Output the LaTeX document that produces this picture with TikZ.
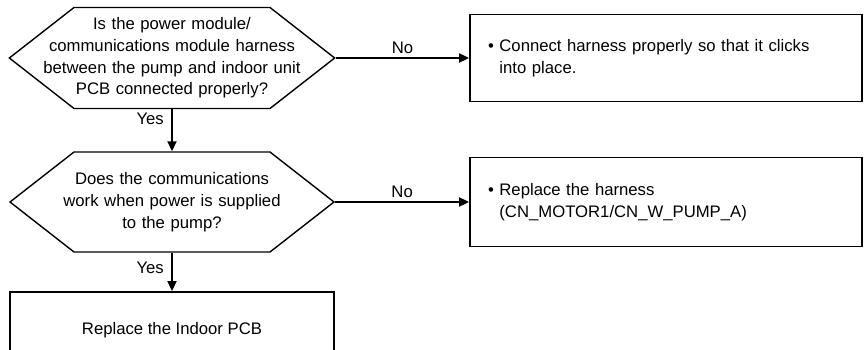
\documentclass[tikz,border=0pt]{standalone}
\usepackage{fontspec}
\setmainfont{Liberation Sans}
\usetikzlibrary{arrows.meta,shapes.symbols}

\begin{document}
\begin{tikzpicture}[x=1pt,y=-1pt,>={Triangle[length=10pt,width=9pt]},
  font=\fontsize{16.7}{21.7}\selectfont,
  check/.style={shape=signal,signal to=west and east,signal pointer angle=76,draw,line width=1.4pt,text width=280pt,inner xsep=-42pt,inner ysep=0pt,align=center},
  fixbox/.style={draw,line width=1.8pt,inner sep=0pt},
  link/.style={->,line width=1.8pt}]
\clip (0,0) rectangle (866,350);
\node[check,minimum height=101pt] (q1) at (172,58) {Is the power module/\\communications module harness\\between the pump and indoor unit\\PCB connected properly?};
\node[check,minimum height=100pt] (q2) at (172,202) {Does the communications\\work when power is supplied\\to the pump?};
\node[fixbox,minimum width=392pt,minimum height=87pt,text width=356pt,align=left] (fix1) at (666,58) {•\ Connect harness properly so that it clicks\\\phantom{•\ }into place.};
\node[fixbox,minimum width=392pt,minimum height=89pt,text width=356pt,align=left] (fix2) at (666,202) {•\ Replace the harness\\\phantom{•\ }(CN\_MOTOR1/CN\_W\_PUMP\_A)};
\node[fixbox,minimum width=324pt,minimum height=76pt] (fix3) at (172,330) {Replace the Indoor PCB};
% no branches
\draw[link] (q1.east) -- node[above]{No} (fix1.west);
\draw[link] (q2.east) -- node[above]{No} (fix2.west);
% yes branches
\draw[link] (q1.south) -- node[pos=0.23,left,xshift=-4pt]{Yes} (q2.north);
\draw[link] (q2.south) -- node[pos=0.4,left,xshift=-4pt]{Yes} (fix3.north);
\end{tikzpicture}
\end{document}
